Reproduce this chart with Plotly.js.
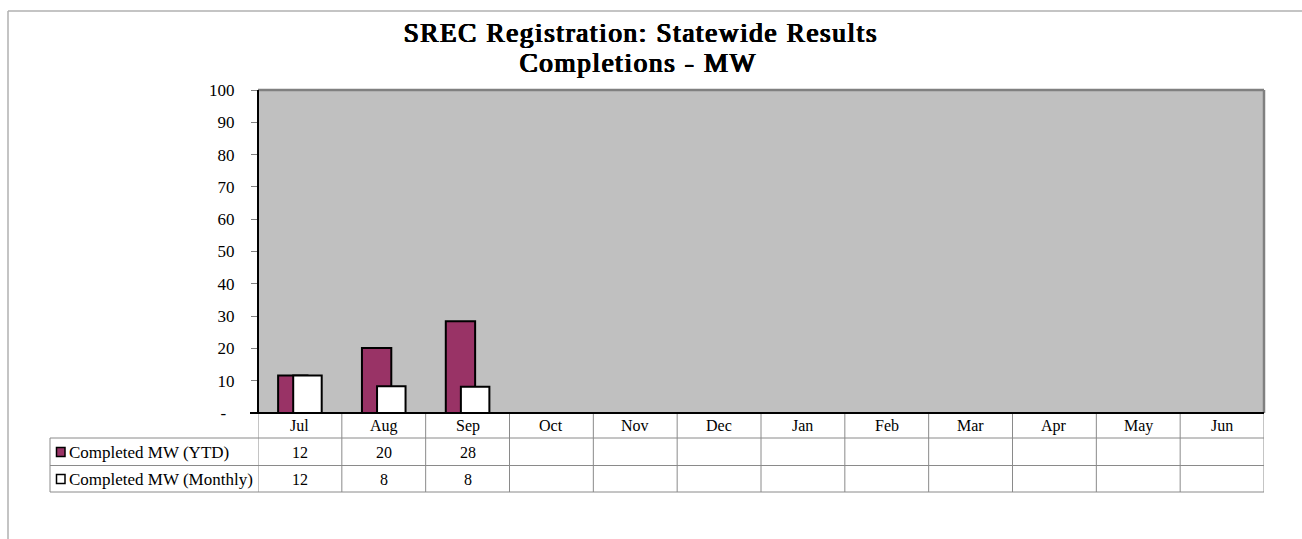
<!DOCTYPE html>
<html>
<head>
<meta charset="utf-8">
<script src="https://cdn.plot.ly/plotly-3.0.1.min.js"></script>
<style>
html,body{margin:0;padding:0;background:#fff;}#chart{width:1302px;height:539px;}
#chart g.annotation[data-index="0"] text, #chart g.annotation[data-index="1"] text {letter-spacing:1.7px;}
</style>
</head>
<body>
<div id="chart"></div>
<script>
const months = ["Jul","Aug","Sep","Oct","Nov","Dec","Jan","Feb","Mar","Apr","May","Jun"];
const ytdMW = [11.6, 20.1, 28.4];
const monthlyMW = [11.6, 8.3, 8.1];
const seriesNames = ["Completed MW (YTD)", "Completed MW (Monthly)"];
const yTickVals = [0,10,20,30,40,50,60,70,80,90,100];
const yTickText = ["-\u00a0\u00a0","10","20","30","40","50","60","70","80","90","100"];
const titleLines = ["SREC Registration: Statewide Results", "Completions - MW"];

const W = 1302, H = 539, L = 258, R = 1264, T = 90, B = 413;
const px = x => (x - L) / (R - L);
const py = y => (B - y) / (B - T);
const FONT = "Liberation Serif";
const ytdColor = "#993366";

const traces = [
  {type:"bar", name:seriesNames[0], x:months.slice(0, ytdMW.length), y:ytdMW,
   offset:-0.26, width:0.35, marker:{color:ytdColor, line:{color:"#000", width:2}}, hoverinfo:"y"},
  {type:"bar", name:seriesNames[1], x:months.slice(0, monthlyMW.length), y:monthlyMW,
   offset:-0.08, width:0.34, marker:{color:"#fff", line:{color:"#000", width:2}}, hoverinfo:"y"}
];

const grid = "#8a8a8a";
const shapes = [];
const annotations = [];

// titles (faux bold: serif bold face is not installed) -- indices 0 and 1
const boldShadow = "0.6px 0 0 #000, -0.5px 0 0 #000, 0 0.3px 0 #000, 1px 0 0 #000";
annotations.push({xref:"paper", yref:"paper", x:px(640), y:py(33), text:titleLines[0], showarrow:false, xanchor:"center", yanchor:"middle", font:{family:FONT, size:27, color:"#000", shadow:boldShadow}});
annotations.push({xref:"paper", yref:"paper", x:px(638), y:py(63.5), text:titleLines[1], showarrow:false, xanchor:"center", yanchor:"middle", font:{family:FONT, size:27, color:"#000", shadow:boldShadow}});

// outer frame
shapes.push({type:"line", xref:"paper", yref:"paper", x0:px(8), x1:px(1302), y0:py(11), y1:py(11), line:{color:"#b0b0b0", width:1.5}});
shapes.push({type:"line", xref:"paper", yref:"paper", x0:px(8), x1:px(8), y0:py(11), y1:py(539), line:{color:"#b0b0b0", width:1.5}});
// plot border
shapes.push({type:"line", xref:"paper", yref:"paper", x0:0, x1:1, y0:1, y1:1, line:{color:"#808080", width:2.5}});
shapes.push({type:"line", xref:"paper", yref:"paper", x0:1, x1:1, y0:0, y1:1, line:{color:"#808080", width:2.5}});

// table rows
const rowLines = [438, 465.5, 492];
rowLines.forEach(y => shapes.push({type:"line", xref:"paper", yref:"paper", x0:px(50), x1:1, y0:py(y), y1:py(y), line:{color:grid, width:1}}));
shapes.push({type:"line", xref:"paper", yref:"paper", x0:px(50), x1:px(50), y0:py(438), y1:py(492), line:{color:grid, width:1}});
for (let i = 0; i <= months.length; i++) {
  shapes.push({type:"line", xref:"x", yref:"paper", x0:i-0.5, x1:i-0.5, y0:py(413), y1:py(492), line:{color:grid, width:1}});
}
// axis lines on top
shapes.push({type:"line", xref:"paper", yref:"paper", x0:0, x1:0, y0:0, y1:1, line:{color:"#000", width:2}});
shapes.push({type:"line", xref:"paper", yref:"paper", x0:px(250), x1:1, y0:0, y1:0, line:{color:"#000", width:2}});

// header row
months.forEach((m, i) => annotations.push({xref:"x", yref:"paper", x:m, y:py(425.5), text:m, showarrow:false, xanchor:"center", yanchor:"middle", font:{family:FONT, size:16, color:"#000"}}));
const rows = [[ytdMW, 452], [monthlyMW, 479]];
rows.forEach(([vals, yc], r) => {
  vals.forEach((v, i) => annotations.push({xref:"x", yref:"paper", x:months[i], y:py(yc), text:String(Math.round(v)), showarrow:false, xanchor:"center", yanchor:"middle", font:{family:FONT, size:16, color:"#000"}}));
  annotations.push({xref:"paper", yref:"paper", x:px(67), y:py(yc), text:seriesNames[r], showarrow:false, xanchor:"left", yanchor:"middle", font:{family:FONT, size:17, color:"#000"}});
  shapes.push({type:"rect", xref:"paper", yref:"paper", x0:px(56.5), x1:px(65), y0:py(yc-4.5), y1:py(yc+4.5), fillcolor: r===0 ? ytdColor : "#fff", line:{color:"#000", width:1.5}});
});

const layout = {
  width:W, height:H,
  margin:{l:L, r:W-R, t:T, b:H-B, pad:0},
  paper_bgcolor:"#fff", plot_bgcolor:"#c0c0c0",
  showlegend:false, barmode:"overlay",
  xaxis:{type:"category", categoryorder:"array", categoryarray:months, range:[-0.5, months.length-0.5], showticklabels:false, ticks:"", showgrid:false, zeroline:false, showline:false, fixedrange:true},
  yaxis:{range:[0,100], tickvals:yTickVals, ticktext:yTickText, ticks:"outside", ticklen:6, tickcolor:"#808080", tickwidth:1, ticklabelstandoff:13, showgrid:false, zeroline:false, showline:false, tickfont:{family:FONT, size:17, color:"#000"}, fixedrange:true},
  shapes:shapes, annotations:annotations
};
Plotly.newPlot("chart", traces, layout, {displayModeBar:false, staticPlot:true});
</script>
</body>
</html>
